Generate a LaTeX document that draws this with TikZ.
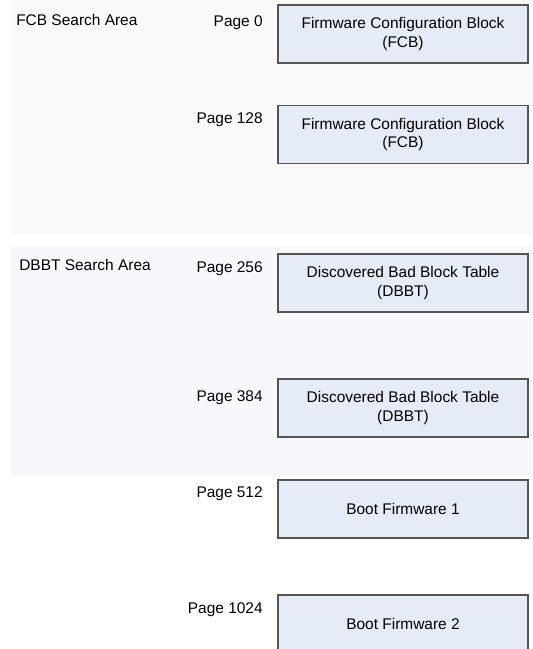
\documentclass[tikz,border=0pt]{standalone}
\usepackage{fontspec}
\setmainfont{Liberation Sans}
\usetikzlibrary{positioning}

\definecolor{fcbarea}{RGB}{249,249,248}
\definecolor{dbbtarea}{RGB}{247,248,252}
\definecolor{blockfill}{RGB}{229,236,247}
\definecolor{blockline}{RGB}{85,85,85}

\begin{document}
\begin{tikzpicture}[
        blockbox/.style={draw=blockline, line width=0.8pt, fill=blockfill, align=center, minimum width=6.25cm, minimum height=1.45cm, font=\fontsize{11}{13.5}\selectfont},
        pagelbl/.style={anchor=east, inner sep=0pt, font=\fontsize{11}{13.5}\selectfont},
        arealbl/.style={anchor=west, inner sep=0pt, font=\fontsize{11}{13.5}\selectfont}
    ]
        \useasboundingbox (0,0) rectangle (13.3,-16.225);
        \fill[white] (0,0) rectangle (13.3,-16.225);

        % search areas
        \fill[fcbarea] (0.3,0) rectangle (13.3,-5.85);
        \fill[dbbtarea] (0.275,-6.15) rectangle (13.3,-11.9);
        \node[arealbl] (fcbarea) at (0.4,-0.5) {FCB Search Area};
        \node[arealbl] (dbbtarea) at (0.475,-6.625) {DBBT Search Area};

        % blocks
        \node[blockbox] (fcb0) at (10.075,-0.85) {Firmware Configuration Block\\(FCB)};
        \node[blockbox] (fcb1) at (10.075,-3.3625) {Firmware Configuration Block\\(FCB)};
        \node[blockbox] (dbbt0) at (10.075,-7.075) {Discovered Bad Block Table\\(DBBT)};
        \node[blockbox] (dbbt1) at (10.075,-10.2) {Discovered Bad Block Table\\(DBBT)};
        \node[blockbox] (fw1) at (10.075,-12.725) {Boot Firmware 1};
        \node[blockbox] (fw2) at (10.075,-15.6) {Boot Firmware 2};

        % page numbers
        \node[pagelbl] (p0) at (6.575,-0.57) {Page 0};
        \node[pagelbl] (p128) at (6.575,-3.0) {Page 128};
        \node[pagelbl] (p256) at (6.575,-6.725) {Page 256};
        \node[pagelbl] (p384) at (6.575,-9.95) {Page 384};
        \node[pagelbl] (p512) at (6.575,-12.35) {Page 512};
        \node[pagelbl] (p1024) at (6.575,-15.25) {Page 1024};
    \end{tikzpicture}
\end{document}
